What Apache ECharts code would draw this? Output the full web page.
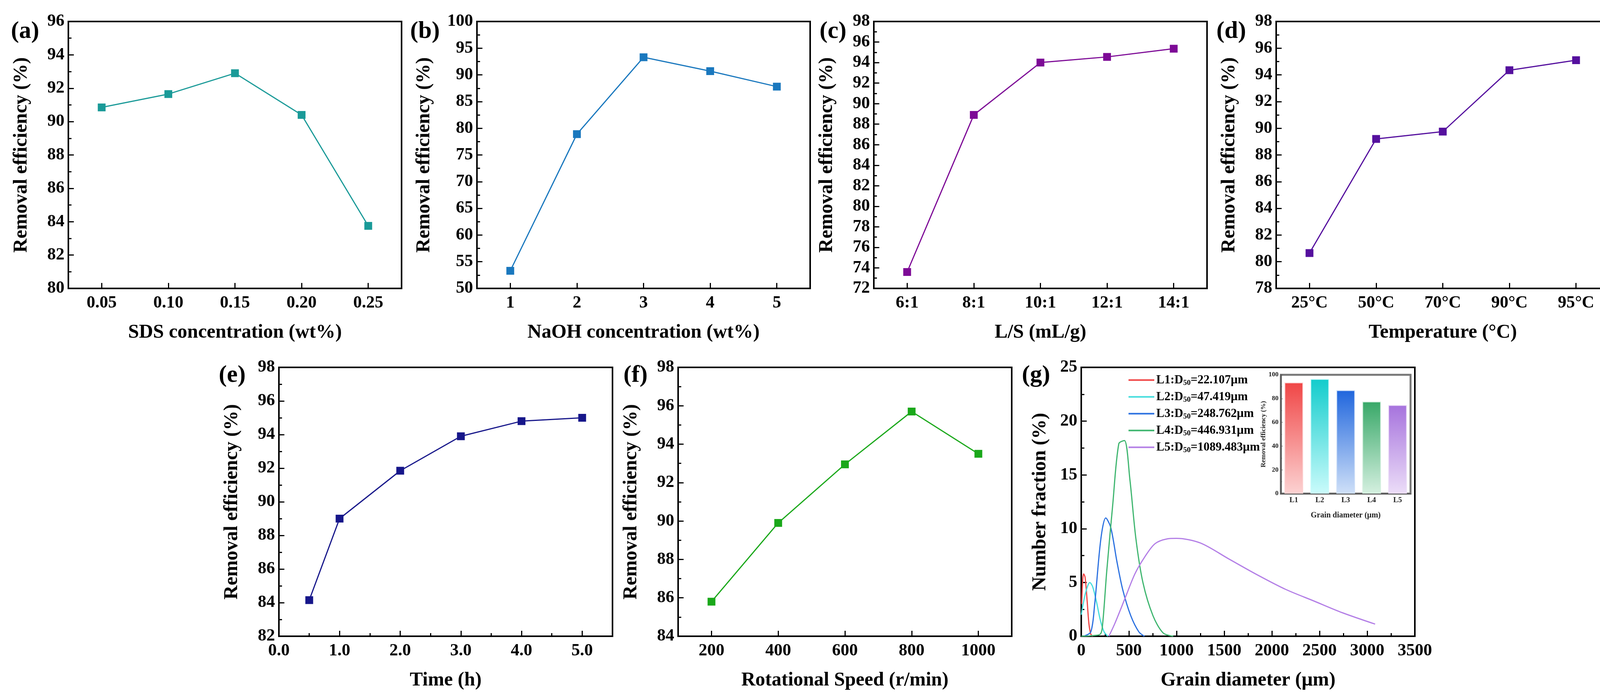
<!DOCTYPE html>
<html><head><meta charset="utf-8">
<script src="https://cdn.jsdelivr.net/npm/echarts@6/dist/echarts.min.js"></script>
<style>html,body{margin:0;padding:0;background:#fff}#c{width:4142px;height:1786px}</style>
</head><body><div id="c"></div>
<script>
// ---- data ----
const sdsCats = ['0.05','0.10','0.15','0.20','0.25'];
const sdsVals = [90.85, 91.65, 92.9, 90.4, 83.75];
const naohCats = ['1','2','3','4','5'];
const naohVals = [53.3, 78.9, 93.3, 90.7, 87.8];
const lsCats = ['6:1','8:1','10:1','12:1','14:1'];
const lsVals = [73.6, 88.9, 94.0, 94.55, 95.35];
const tempCats = ['25°C','50°C','70°C','90°C','95°C'];
const tempVals = [80.65, 89.2, 89.75, 94.35, 95.1];
const timeX = [0.5, 1, 2, 3, 4, 5];
const timeVals = [84.15, 89.0, 91.85, 93.9, 94.8, 95.0];
const speedCats = ['200','400','600','800','1000'];
const speedVals = [85.8, 89.9, 92.95, 95.7, 93.5];
const L1 = [[5,3.0],[15,5.2],[25,5.8],[40,5.5],[60,3.5],[80,1.2],[100,0.2],[120,0]];
const L2 = [[0,2.0],[20,3.0],[50,4.2],[90,5.0],[120,4.6],[160,3.2],[200,1.5],[240,0.4],[280,0]];
const L3 = [[25,0],[100,0.4],[140,2.9],[205,9.0],[257,11.0],[310,10.1],[373,7.0],[436,4.3],[520,1.9],[605,0.4],[663,0]];
const L4 = [[0,0],[100,0.05],[200,0.2],[225,1.2],[267,6.0],[330,12.2],[394,17.9],[453,18.2],[510,14.6],[573,9.1],[647,5.0],[753,1.9],[860,0.3],[966,0]];
const L5 = [[290,0],[353,1.2],[458,3.5],[563,5.8],[668,7.4],[773,8.6],[899,9.05],[1000,9.1],[1250,8.67],[1546,7.2],[1845,5.72],[2144,4.36],[2443,3.27],[2739,2.19],[3083,1.13]];
const gNames = ['L1','L2','L3','L4','L5'];
const gD50 = ['22.107','47.419','248.762','446.931','1089.483'];
const gColors = ['#f04444','#44dddd','#2a70e0','#3db56e','#b37ee6'];
const insetVals = [93.5, 96.5, 87.0, 77.5, 74.5];
const insetTop = ['#f04646','#12cccc','#2066dd','#38a868','#a673dd'];
const insetBot = ['#fcd2d2','#cafbfb','#cfe0f8','#d5f0e0','#ecddf8'];

const F = 'Liberation Serif';
const grids = [], xAxes = [], yAxes = [], series = [];
function tickStyle(){return {show:true,inside:true,length:14,lineStyle:{width:3,color:'#000'}};}
function addPanel(g, xa, ya, s){
  const gi = grids.length;
  grids.push(Object.assign({show:true,borderColor:'#000',borderWidth:4,backgroundColor:'transparent'},g));
  xAxes.push(Object.assign({gridIndex:gi,nameLocation:'middle',nameGap:88,
    nameTextStyle:{fontFamily:F,fontWeight:'bold',fontSize:50,color:'#000'},
    axisLine:{lineStyle:{color:'#000',width:4}},axisTick:tickStyle(),
    axisLabel:{fontFamily:F,fontWeight:'bold',fontSize:44,color:'#000',margin:16},
    splitLine:{show:false}},xa));
  yAxes.push(Object.assign({type:'value',gridIndex:gi,nameLocation:'middle',nameGap:95,
    nameTextStyle:{fontFamily:F,fontWeight:'bold',fontSize:50,color:'#000'},
    axisLine:{show:true,lineStyle:{color:'#000',width:4}},axisTick:tickStyle(),
    minorTick:{show:true,splitNumber:2,length:8,lineStyle:{width:3,color:'#000'}},
    axisLabel:{fontFamily:F,fontWeight:'bold',fontSize:44,color:'#000',margin:10},
    splitLine:{show:false}},ya));
  s.forEach(x=>series.push(Object.assign({xAxisIndex:gi,yAxisIndex:gi},x)));
  return gi;
}
function lineS(data,color){return {type:'line',data:data,symbol:'rect',symbolSize:20,
  lineStyle:{color:color,width:3},itemStyle:{color:color},z:5};}
const catX = (cats,name)=>({type:'category',data:cats,name:name,boundaryGap:true,
  axisTick:Object.assign(tickStyle(),{alignWithLabel:true})});
const yT = 'Removal efficiency (%)';
addPanel({left:175,top:55,width:853,height:683}, catX(sdsCats,'SDS concentration (wt%)'),
  {min:80,max:96,interval:2,name:yT}, [lineS(sdsVals,'#1a9a98')]);
addPanel({left:1221,top:55,width:853,height:683}, catX(naohCats,'NaOH concentration (wt%)'),
  {min:50,max:100,interval:5,name:yT,nameGap:110}, [lineS(naohVals,'#1a78be')]);
addPanel({left:2237,top:55,width:853,height:683}, catX(lsCats,'L/S (mL/g)'),
  {min:72,max:98,interval:2,name:yT}, [lineS(lsVals,'#7d0a96')]);
addPanel({left:3267,top:55,width:853,height:683}, catX(tempCats,'Temperature (°C)'),
  {min:78,max:98,interval:2,name:yT}, [lineS(tempVals,'#55109e')]);
addPanel({left:714,top:940,width:854,height:688},
  {type:'value',min:0,max:5.5,interval:1,name:'Time (h)',
   minorTick:{show:true,splitNumber:2,length:8,lineStyle:{width:3,color:'#000'}},
   axisLabel:{fontFamily:F,fontWeight:'bold',fontSize:44,color:'#000',margin:16,
     formatter:v=>v<=5?v.toFixed(1):''}},
  {min:82,max:98,interval:2,name:yT}, [lineS(timeX.map((x,i)=>[x,timeVals[i]]),'#16168a')]);
addPanel({left:1736,top:940,width:854,height:688}, catX(speedCats,'Rotational Speed (r/min)'),
  {min:84,max:98,interval:2,name:yT}, [lineS(speedVals,'#1aa81a')]);
const gLines=[L1,L2,L3,L4,L5];
addPanel({left:2768,top:940,width:854,height:688},
  {type:'value',min:0,max:3500,interval:500,name:'Grain diameter (μm)',
   minorTick:{show:true,splitNumber:2,length:8,lineStyle:{width:3,color:'#000'}},
   axisLabel:{fontFamily:F,fontWeight:'bold',fontSize:44,color:'#000',margin:16,formatter:v=>String(v)}},
  {min:0,max:25,interval:5,name:'Number fraction (%)',nameGap:80},
  gLines.map((d,i)=>({type:'line',name:gNames[i],data:d,smooth:0.3,symbol:'none',
    lineStyle:{color:gColors[i],width:3},itemStyle:{color:gColors[i]},z:4})));
// inset
const gi = grids.length;
grids.push({left:3279,top:959,width:332,height:304,show:true,borderColor:'#777',borderWidth:5,backgroundColor:'#fff',z:10});
xAxes.push({type:'category',gridIndex:gi,data:gNames,name:'Grain diameter (μm)',nameLocation:'middle',nameGap:46,
  nameTextStyle:{fontFamily:F,fontWeight:'bold',fontSize:20,color:'#222'},
  axisLine:{lineStyle:{color:'#555',width:3}},axisTick:{show:true,inside:true,length:5,alignWithLabel:true,lineStyle:{color:'#555'}},
  axisLabel:{fontFamily:F,fontWeight:'bold',fontSize:19,color:'#222',margin:8},z:11});
yAxes.push({type:'value',gridIndex:gi,min:0,max:100,interval:20,name:'Removal efficiency (%)',nameLocation:'middle',nameGap:34,
  nameTextStyle:{fontFamily:F,fontWeight:'bold',fontSize:17,color:'#222'},
  axisLine:{show:true,lineStyle:{color:'#555',width:3}},axisTick:{show:true,inside:true,length:5,lineStyle:{color:'#555'}},
  minorTick:{show:true,splitNumber:2,length:3,lineStyle:{color:'#555'}},
  axisLabel:{fontFamily:F,fontWeight:'bold',fontSize:17,color:'#222',margin:6},splitLine:{show:false},z:11});
series.push({type:'bar',xAxisIndex:gi,yAxisIndex:gi,barWidth:'72%',z:12,
  data:insetVals.map((v,i)=>({value:v,itemStyle:{
    color:{type:'linear',x:0,y:0,x2:0,y2:1,colorStops:[{offset:0,color:insetTop[i]},{offset:1,color:insetBot[i]}]},
    borderColor:insetBot[i],borderWidth:2}}))});

const labels = [['(a)',28,50],['(b)',1050,50],['(c)',2098,50],['(d)',3114,50],['(e)',560,930],['(f)',1596,930],['(g)',2616,930]];
const option = {
  animation:false, backgroundColor:'#fff',
  grid:grids, xAxis:xAxes, yAxis:yAxes, series:series,
  legend:{data:gNames, orient:'vertical', left:2884, top:952, itemWidth:66, itemHeight:14, itemGap:10,
    icon:'path://M0,5 L66,5 L66,9 L0,9 Z',
    textStyle:{fontFamily:F,fontWeight:'bold',fontSize:31,color:'#000',
      rich:{a:{fontFamily:F,fontWeight:'bold',fontSize:31,color:'#000'},
            s:{fontFamily:F,fontWeight:'bold',fontSize:19,color:'#000',padding:[16,0,0,0]}}},
    formatter:n=>{const i=gNames.indexOf(n);return '{a|'+n+':D}{s|50}{a|='+gD50[i]+'μm}';}},
  graphic:labels.map(l=>({type:'text',left:l[1],top:l[2],style:{text:l[0],font:'bold 62px "Liberation Serif"',fill:'#000'}}))
};
echarts.init(document.getElementById('c')).setOption(option);
</script></body></html>
